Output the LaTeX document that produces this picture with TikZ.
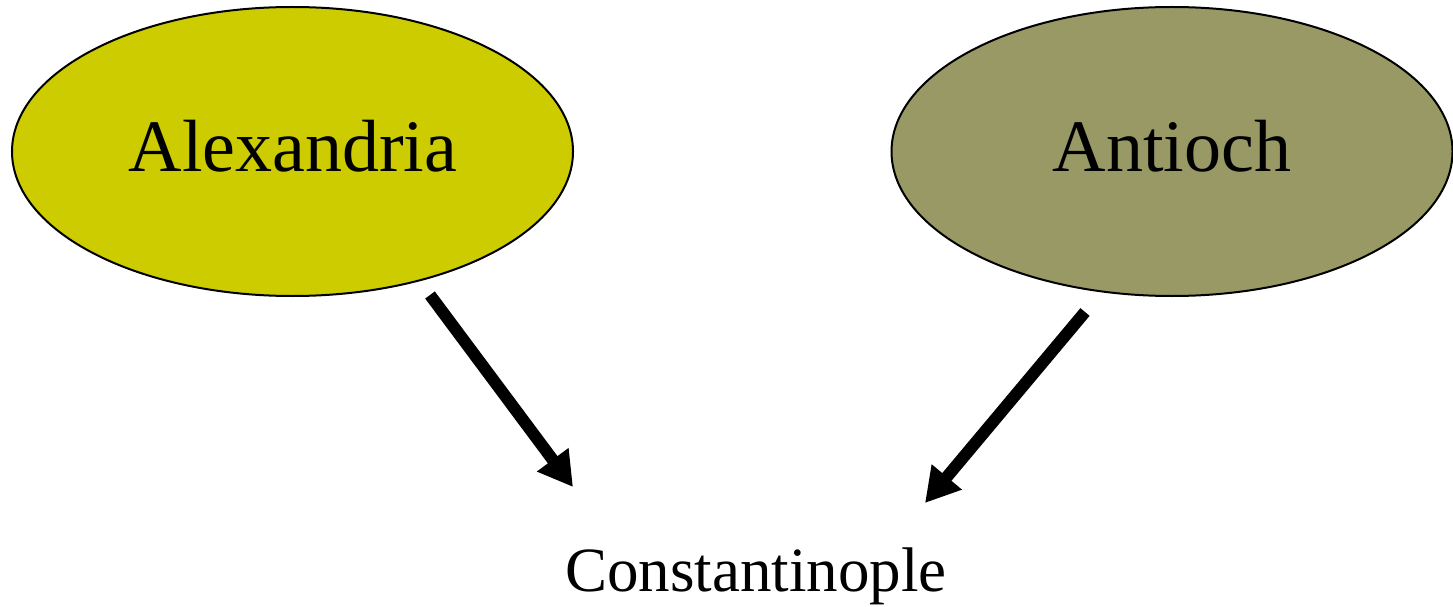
\documentclass[tikz,border=0pt]{standalone}
\usepackage{fontspec}
\setmainfont{Liberation Serif}
\usetikzlibrary{arrows.meta,shapes.geometric}
\definecolor{alexcol}{HTML}{CCCC00}
\definecolor{antcol}{HTML}{999966}
\tikzset{
  city/.style={draw=black, line width=2pt, ellipse, minimum width=561pt, minimum height=289pt, inner sep=0pt},
  bigtext/.style={font=\fontsize{74}{80}\selectfont},
  flow/.style={line width=12pt, -{Triangle[length=34pt,width=37pt]}}
}
\begin{document}
\begin{tikzpicture}[x=1pt,y=-1pt]
\useasboundingbox (0,0) rectangle (1453,607);
\node[city, fill=alexcol] (alex) at (292.5,151.5) {};
\node[city, fill=antcol] (ant) at (1172,151.5) {};
\node[bigtext, anchor=base] (alexlabel) at (293,171) {Alexandria};
\node[bigtext, anchor=base] (antlabel) at (1172,171) {Antioch};
\node[font=\fontsize{63}{70}\selectfont, anchor=base] (const) at (756,591) {Constantinople};
\coordinate (a1) at (430,295);
\coordinate (a2) at (573,487);
\coordinate (b1) at (1085,312);
\coordinate (b2) at (925,503);
\draw[flow] (a1) -- (a2);
\draw[flow] (b1) -- (b2);
\end{tikzpicture}
\end{document}
